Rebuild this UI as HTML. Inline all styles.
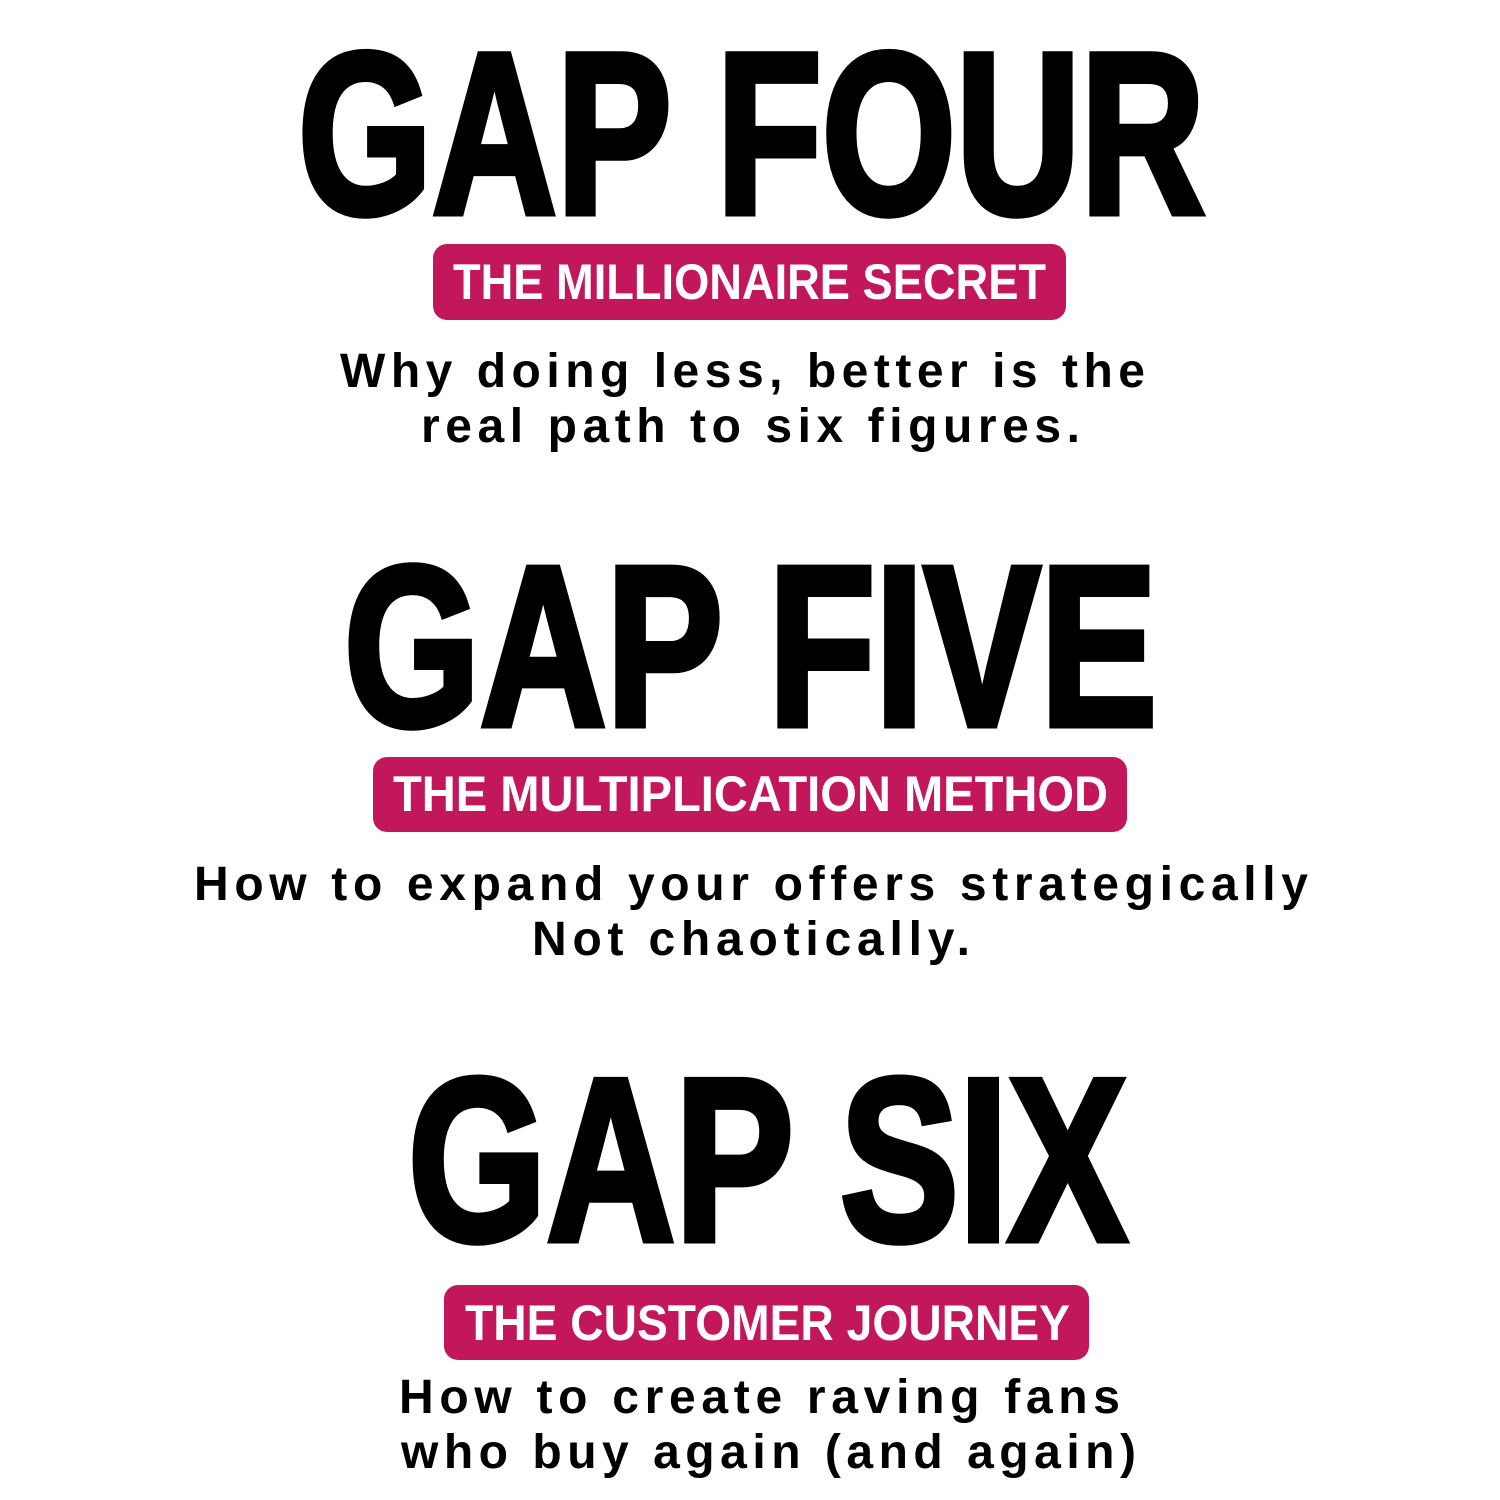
<!DOCTYPE html>
<html><head><meta charset="utf-8"><style>
html,body{margin:0;padding:0;background:#fff;width:1500px;height:1500px;overflow:hidden}
svg{display:block}
.h{font-family:"Liberation Sans",sans-serif;font-weight:bold;fill:#000;stroke:#000;stroke-width:7;stroke-linejoin:miter}
.p{font-family:"Liberation Sans",sans-serif;font-weight:bold;fill:#fff}
.b{font-family:"Liberation Sans",sans-serif;font-weight:bold;fill:#000}
</style></head><body>
<svg width="1500" height="1500" viewBox="0 0 1500 1500" xmlns="http://www.w3.org/2000/svg">
<rect width="1500" height="1500" fill="#fff"/>
<text class="h" x="298" y="213" font-size="230" textLength="907" lengthAdjust="spacingAndGlyphs">GAP FOUR</text>
<rect x="433" y="244" width="633" height="76" rx="14" fill="#C2185B"/>
<text class="p" x="453" y="299" font-size="50" textLength="593" lengthAdjust="spacingAndGlyphs">THE MILLIONAIRE SECRET</text>
<text class="b" x="340" y="387" font-size="48" textLength="805" lengthAdjust="spacing">Why doing less, better is the</text>
<text class="b" x="421" y="442" font-size="48" textLength="659" lengthAdjust="spacing">real path to six figures.</text>

<text class="h" x="344" y="725" font-size="228" textLength="813" lengthAdjust="spacingAndGlyphs">GAP FIVE</text>
<rect x="373" y="757" width="754" height="75" rx="14" fill="#C2185B"/>
<text class="p" x="393" y="811" font-size="50" textLength="715" lengthAdjust="spacingAndGlyphs">THE MULTIPLICATION METHOD</text>
<text class="b" x="194" y="900" font-size="48" textLength="1114" lengthAdjust="spacing">How to expand your offers strategically</text>
<text class="b" x="532" y="955" font-size="48" textLength="438" lengthAdjust="spacing">Not chaotically.</text>

<text class="h" x="408" y="1240" font-size="232" textLength="719" lengthAdjust="spacingAndGlyphs">GAP SIX</text>
<rect x="444" y="1285" width="645" height="75" rx="14" fill="#C2185B"/>
<text class="p" x="465" y="1340" font-size="50" textLength="605" lengthAdjust="spacingAndGlyphs">THE CUSTOMER JOURNEY</text>
<text class="b" x="399" y="1413" font-size="48" textLength="721" lengthAdjust="spacing">How to create raving fans</text>
<text class="b" x="401" y="1468" font-size="48" textLength="735" lengthAdjust="spacing">who buy again (and again)</text>
</svg>
</body></html>
